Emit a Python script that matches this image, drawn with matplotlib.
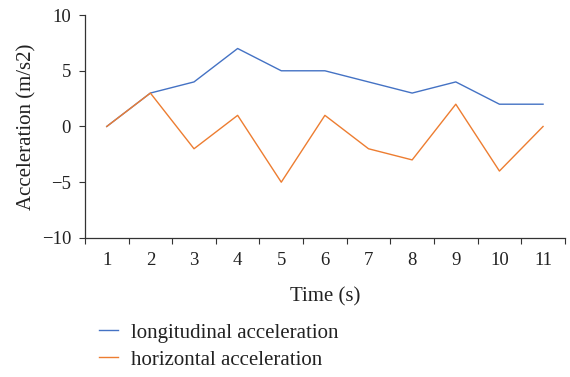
import numpy as np
import matplotlib.pyplot as plt
from matplotlib.lines import Line2D

plt.rcParams['font.family'] = ['Liberation Serif', 'DejaVu Serif']

# Data
time_s = [1, 2, 3, 4, 5, 6, 7, 8, 9, 10, 11]
longitudinal = [0, 3, 4, 7, 5, 5, 4, 3, 4, 2, 2]
horizontal = [0, 3, -2, 1, -5, 1, -2, -3, 2, -4, 0]
y_ticks = [-10, -5, 0, 5, 10]

blue = '#4472C4'
orange = '#ED7D31'

fig = plt.figure(figsize=(5.7, 3.77), dpi=100)
ax = fig.add_axes([0.149, 0.369, 0.842, 0.591])

ax.plot(time_s, longitudinal, color=blue, lw=1.0)
ax.plot(time_s, horizontal, color=orange, lw=1.0)

ax.set_xlim(0.5, 11.5)
ax.set_ylim(-10, 10)

# category-style axis: labels centred, tick marks at the boundaries
ax.set_xticks(time_s)
ax.set_xticklabels([str(t) for t in time_s])
ax.tick_params(axis='x', which='major', length=0, pad=10, labelsize=13.5, colors='#222222')
ax.set_xticks(np.arange(0.5, 12, 1), minor=True)
ax.tick_params(axis='x', which='minor', length=4, width=0.8, direction='out', color='#333333')

ax.set_yticks(y_ticks)
ax.set_yticklabels([str(v).replace('-', '\u2212') for v in y_ticks])
ax.tick_params(axis='y', length=4, width=0.8, direction='out', labelsize=13.5, color='#333333',
               labelcolor='#222222', pad=6)

for s in ['top', 'right']:
    ax.spines[s].set_visible(False)
for s in ['left', 'bottom']:
    ax.spines[s].set_color('#333333')
    ax.spines[s].set_linewidth(0.9)

ax.set_xlabel('Time (s)', fontsize=15, color='#222222', labelpad=13)
ax.set_ylabel('Acceleration (m/s2)', fontsize=15, color='#222222', labelpad=4)

handles = [Line2D([], [], color=blue, lw=1.0), Line2D([], [], color=orange, lw=1.0)]
fig.legend(handles, ['longitudinal acceleration', 'horizontal acceleration'],
           loc='lower left', bbox_to_anchor=(0.14, -0.03), frameon=False,
           fontsize=15, handlelength=0.95, handletextpad=0.6, labelspacing=0.35,
           labelcolor='#222222')

plt.savefig('out.png', dpi=100)
plt.close()
